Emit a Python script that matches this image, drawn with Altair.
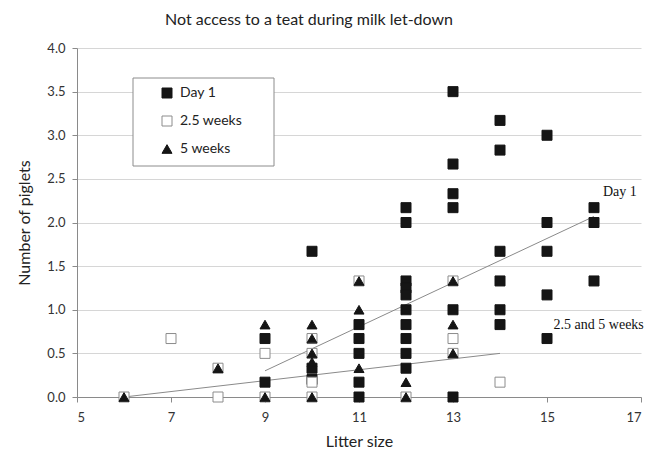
import altair as alt
import pandas as pd

# ---- data ----
series_names = ["Day 1", "2.5 weeks", "5 weeks"]

day1_x = [9, 9, 10, 10, 10, 11, 11, 11, 11, 11,
          12, 12, 12, 12, 12, 12, 12, 12, 12, 12,
          13, 13, 13, 13, 13, 13,
          14, 14, 14, 14, 14, 14,
          15, 15, 15, 15, 15,
          16, 16, 16]
day1_y = [0.67, 0.17, 1.67, 0.33, 0.2, 0.83, 0.67, 0.5, 0.17, 0.0,
          2.17, 2.0, 1.33, 1.25, 1.17, 1.0, 0.83, 0.67, 0.5, 0.33,
          3.5, 2.67, 2.33, 2.17, 1.0, 0.0,
          3.17, 2.83, 1.67, 1.33, 1.0, 0.83,
          3.0, 2.0, 1.67, 1.17, 0.67,
          2.17, 2.0, 1.33]

wk25_x = [6, 7, 8, 8, 9, 9, 10, 10, 10, 10, 11, 12, 13, 13, 13, 14]
wk25_y = [0.0, 0.67, 0.0, 0.33, 0.5, 0.0, 0.67, 0.5, 0.17, 0.0, 1.33, 0.0, 1.33, 0.67, 0.5, 0.17]

wk5_x = [6, 8, 9, 9, 10, 10, 10, 10, 10, 11, 11, 11, 12, 12, 13, 13, 13]
wk5_y = [0.0, 0.33, 0.83, 0.0, 0.83, 0.67, 0.5, 0.4, 0.0, 1.33, 1.0, 0.33, 0.17, 0.0, 1.33, 0.83, 0.5]

trend_groups = ["Day 1", "Day 1", "Later", "Later"]
trend_x = [9, 16, 6, 14]
trend_y = [0.3, 2.07, 0.0, 0.5]

label_texts = ["Day 1", "2.5 and 5 weeks"]
label_x = [16.55, 16.1]
label_y = [2.35, 0.82]

x_ticks = [5, 7, 9, 11, 13, 15, 17]
y_ticks = [0.0, 0.5, 1.0, 1.5, 2.0, 2.5, 3.0, 3.5, 4.0]

# ---- tables ----
rows = []
for name, xs, ys in [(series_names[0], day1_x, day1_y),
                     (series_names[1], wk25_x, wk25_y),
                     (series_names[2], wk5_x, wk5_y)]:
    for a, b in zip(xs, ys):
        rows.append({"litter": a, "piglets": b, "series": name})
pts = pd.DataFrame(rows)
trend = pd.DataFrame({"grp": trend_groups, "litter": trend_x, "piglets": trend_y})
labels = pd.DataFrame({"txt": label_texts, "litter": label_x, "piglets": label_y})

FONT = "Lato"
xs = alt.Scale(domain=[5, 17], nice=False, zero=False)
ys = alt.Scale(domain=[0, 4], nice=False)

x_axis = alt.Axis(values=x_ticks, grid=False, title="Litter size", tickSize=5,
                  domainColor="#8a8a8a", tickColor="#8a8a8a", labelColor="#333333",
                  labelFont=FONT, labelFontSize=13, labelPadding=9,
                  titleFont=FONT, titleFontSize=16, titleFontWeight="normal",
                  titleColor="#222222", titlePadding=9)
y_axis = alt.Axis(values=y_ticks, format=".1f", grid=True, gridColor="#d6d6d6",
                  title="Number of piglets", tickSize=5,
                  domainColor="#8a8a8a", tickColor="#8a8a8a", labelColor="#333333",
                  labelFont=FONT, labelFontSize=13, labelPadding=7,
                  titleFont=FONT, titleFontSize=16, titleFontWeight="normal",
                  titleColor="#222222", titlePadding=14)

box = alt.Chart(pd.DataFrame({"a": [0]})).mark_rect(
    fill="white", stroke="#8c8c8c", strokeWidth=1
).encode(x=alt.value(56), x2=alt.value(197), y=alt.value(30), y2=alt.value(118))

lines = alt.Chart(trend).mark_line(color="#8a8a8a", strokeWidth=1).encode(
    x=alt.X("litter:Q", scale=xs, axis=x_axis),
    y=alt.Y("piglets:Q", scale=ys, axis=y_axis),
    detail="grp:N",
)

legend = alt.Legend(title=None)
points = alt.Chart(pts).mark_point(opacity=1, fillOpacity=1, strokeWidth=1, size=100).encode(
    x=alt.X("litter:Q", scale=xs),
    y=alt.Y("piglets:Q", scale=ys),
    shape=alt.Shape("series:N", scale=alt.Scale(domain=series_names,
                    range=["square", "square", "triangle-up"]), legend=legend),
    fill=alt.Fill("series:N", scale=alt.Scale(domain=series_names,
                  range=["#151515", "#ffffff", "#151515"]), legend=legend),
    stroke=alt.Stroke("series:N", scale=alt.Scale(domain=series_names,
                      range=["#151515", "#8c8c8c", "#151515"]), legend=legend),
)

texts = alt.Chart(labels).mark_text(font="Liberation Serif", fontSize=14, color="#111111").encode(
    x=alt.X("litter:Q", scale=xs),
    y=alt.Y("piglets:Q", scale=ys),
    text="txt:N",
)

chart = alt.layer(box, lines, points, texts).properties(
    width=564, height=349,
    title=alt.TitleParams("Not access to a teat during milk let-down", font=FONT,
                          fontSize=16, fontWeight="normal", color="#222222",
                          anchor="middle", offset=14, dx=-50),
    autosize=alt.AutoSizeParams(type="none"),
    padding={"left": 69, "top": 40, "right": 13, "bottom": 52},
).configure_view(stroke=None).configure_legend(
    orient="none", legendX=83, legendY=38, padding=0, labelFont=FONT,
    labelFontSize=14, labelColor="#222222", symbolSize=100, rowPadding=14,
    labelOffset=6, symbolStrokeWidth=1,
)

chart.save("out.html", embed_options={"renderer": "svg", "actions": False})
